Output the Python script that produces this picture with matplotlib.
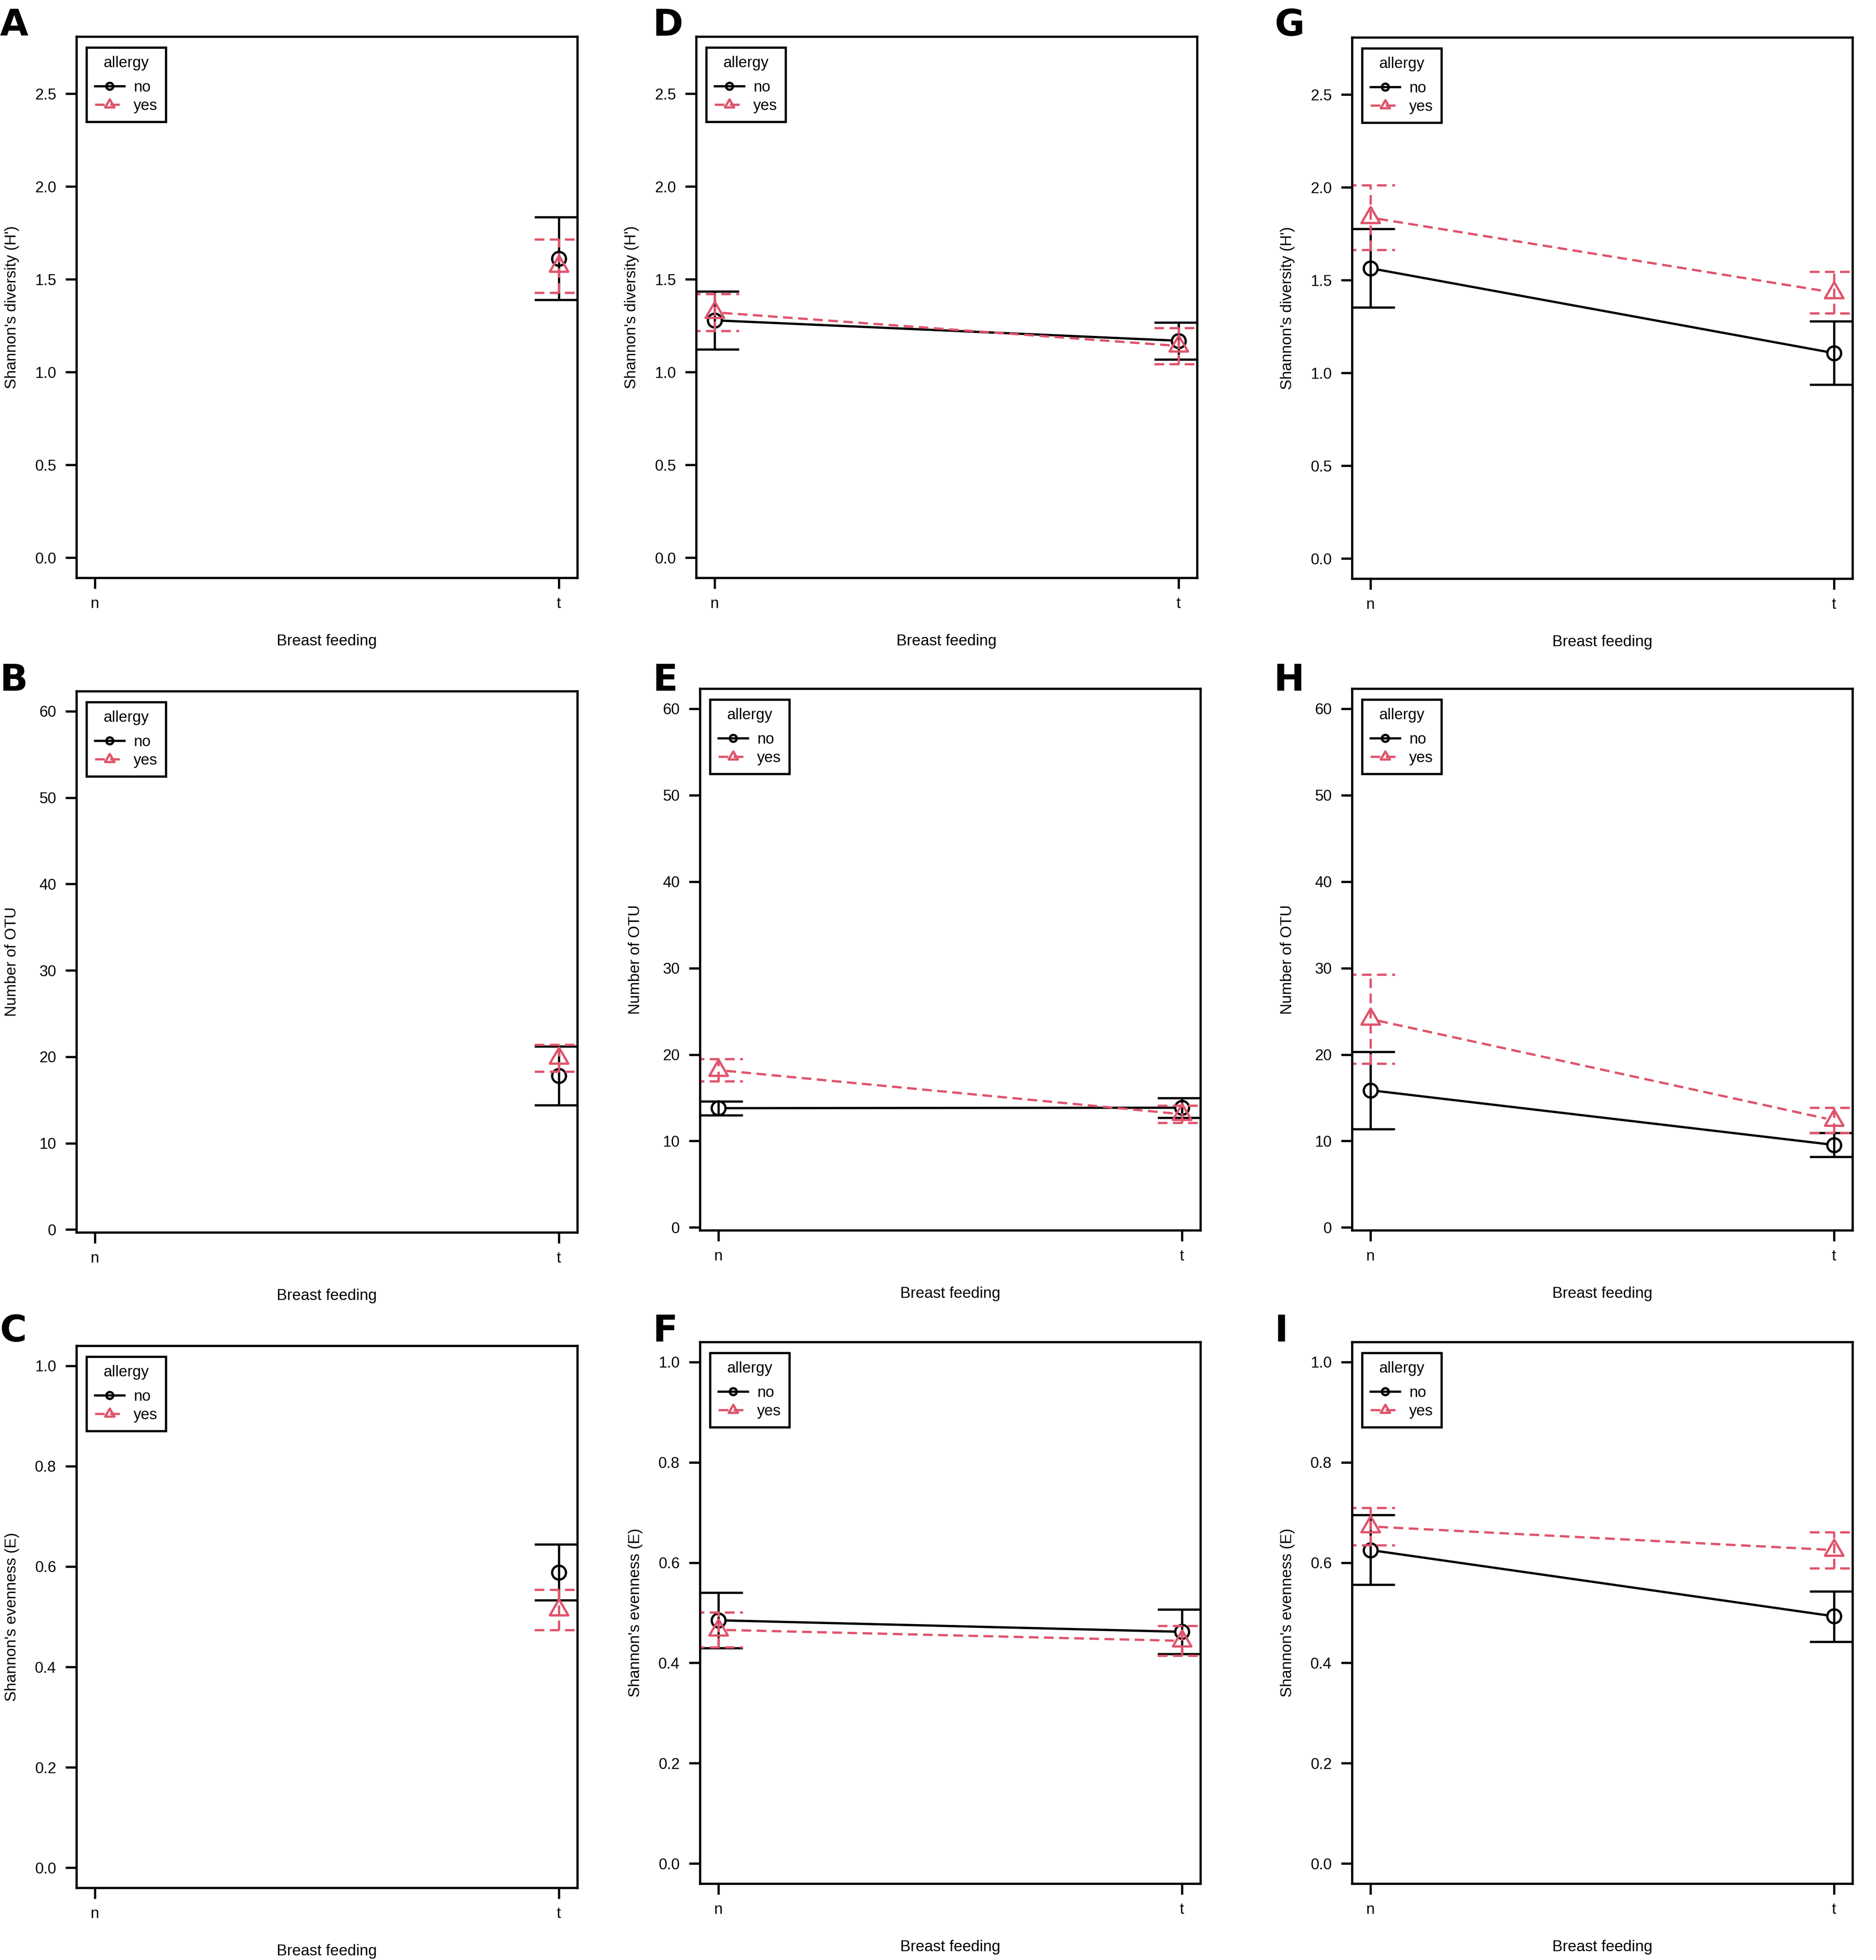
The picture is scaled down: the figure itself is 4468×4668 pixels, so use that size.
import numpy as np
import matplotlib
matplotlib.use("Agg")
import matplotlib.pyplot as plt
from matplotlib.lines import Line2D
from matplotlib.path import Path

plt.rcParams['font.family'] = ['Liberation Sans', 'DejaVu Sans']

nan = np.nan

# factor levels
feeding = ["n", "t"]
allergy = ["no", "yes"]

# per panel and allergy group: one row per feeding level -> [mean, lower, upper]
a_no = [[nan, nan, nan], [1.612, 1.389, 1.835]]
a_yes = [[nan, nan, nan], [1.571, 1.428, 1.715]]
d_no = [[1.279, 1.123, 1.435], [1.169, 1.069, 1.268]]
d_yes = [[1.322, 1.223, 1.422], [1.141, 1.044, 1.239]]
g_no = [[1.564, 1.353, 1.776], [1.107, 0.937, 1.278]]
g_yes = [[1.837, 1.663, 2.011], [1.433, 1.321, 1.545]]

b_no = [[nan, nan, nan], [17.8, 14.4, 21.2]]
b_yes = [[nan, nan, nan], [19.85, 18.3, 21.4]]
e_no = [[13.8, 13.0, 14.6], [13.85, 12.7, 15.0]]
e_yes = [[18.2, 16.9, 19.5], [13.1, 12.1, 14.1]]
h_no = [[15.87, 11.4, 20.3], [9.55, 8.16, 10.93]]
h_yes = [[24.1, 18.95, 29.25], [12.4, 10.93, 13.85]]

c_no = [[nan, nan, nan], [0.588, 0.533, 0.644]]
c_yes = [[nan, nan, nan], [0.514, 0.474, 0.554]]
f_no = [[0.485, 0.430, 0.540], [0.462, 0.418, 0.507]]
f_yes = [[0.466, 0.431, 0.501], [0.444, 0.415, 0.474]]
i_no = [[0.625, 0.556, 0.695], [0.493, 0.442, 0.543]]
i_yes = [[0.672, 0.635, 0.709], [0.625, 0.589, 0.661]]

ylab_h = "Shannon's diversity (H')"
ylab_otu = "Number of OTU"
ylab_e = "Shannon's evenness (E)"
xlab = "Breast feeding"

h_ticks = [0.0, 0.5, 1.0, 1.5, 2.0, 2.5]
otu_ticks = [0, 10, 20, 30, 40, 50, 60]
e_ticks = [0.0, 0.2, 0.4, 0.6, 0.8, 1.0]
h_range = (0, 2.7)
otu_range = (2, 60)
e_range = (0, 1)

W, H, DPI = 4468, 4668, 300
RED = "#DF536B"
LW = 1.3
DASH = (4.25, 2.4)
CAP = 0.052
GAP_PX = 19
CIRCLE_MS = 7.9
TRI_MS = 12.2
FS_TICK = 8.8
FS_LAB = 8.9

# R style open triangle (pch = 2), centred on its centroid
TRI = Path([(0, 1.5551), (1.3468, -0.7776), (-1.3468, -0.7776), (0, 1.5551)],
           [Path.MOVETO, Path.LINETO, Path.LINETO, Path.CLOSEPOLY])

fig = plt.figure(figsize=(W / DPI, H / DPI), dpi=DPI)


def add_axes_px(l, t, r, b):
    return fig.add_axes([l / W, 1 - b / H, (r - l) / W, (b - t) / H])


def gapped_line(ax, xs, ys, **kw):
    # like R type="b": segments stop short of the points
    pts = ax.transData.transform(np.column_stack([xs, ys]))
    inv = ax.transData.inverted()
    for i in range(len(xs) - 1):
        p0, p1 = pts[i], pts[i + 1]
        if np.isnan(p0).any() or np.isnan(p1).any():
            continue
        d = p1 - p0
        u = d / np.hypot(*d)
        seg = inv.transform([p0 + u * GAP_PX, p1 - u * GAP_PX])
        ax.plot(seg[:, 0], seg[:, 1], **kw)


def draw_group(ax, stats, color, ls, marker, ms):
    x = np.arange(1, len(feeding) + 1)
    m = np.array([s[0] for s in stats])
    lo = np.array([s[1] for s in stats])
    hi = np.array([s[2] for s in stats])
    gapped_line(ax, x, m, color=color, lw=LW, ls=ls)
    ok = ~np.isnan(m)
    ax.vlines(x[ok], lo[ok], hi[ok], colors=color, linestyles=[ls], lw=LW)
    ax.hlines(lo[ok], x[ok] - CAP, x[ok] + CAP, colors=color, linestyles=[ls], lw=LW)
    ax.hlines(hi[ok], x[ok] - CAP, x[ok] + CAP, colors=color, linestyles=[ls], lw=LW)
    ax.plot(x[ok], m[ok], ls='none', marker=marker, ms=ms, mfc='none', mec=color, mew=LW)


panels = [
    ("A", a_no, a_yes, ylab_h, h_ticks, "{:.1f}", h_range, (182, 87, 1375, 1376), (0, 85)),
    ("D", d_no, d_yes, ylab_h, h_ticks, "{:.1f}", h_range, (1658, 87, 2851, 1376), (1555, 85)),
    ("G", g_no, g_yes, ylab_h, h_ticks, "{:.1f}", h_range, (3220, 89, 4412, 1378), (3036, 85)),
    ("B", b_no, b_yes, ylab_otu, otu_ticks, "{:d}", otu_range, (182, 1646, 1375, 2935), (0, 1645)),
    ("E", e_no, e_yes, ylab_otu, otu_ticks, "{:d}", otu_range, (1667, 1640, 2859, 2930), (1555, 1645)),
    ("H", h_no, h_yes, ylab_otu, otu_ticks, "{:d}", otu_range, (3220, 1640, 4412, 2930), (3034, 1645)),
    ("C", c_no, c_yes, ylab_e, e_ticks, "{:.1f}", e_range, (182, 3205, 1375, 4496), (0, 3195)),
    ("F", f_no, f_yes, ylab_e, e_ticks, "{:.1f}", e_range, (1667, 3196, 2859, 4486), (1555, 3195)),
    ("I", i_no, i_yes, ylab_e, e_ticks, "{:.1f}", e_range, (3220, 3196, 4412, 4486), (3036, 3195)),
]

for letter, no, yes, ylab, yticks, fmt, yr, box, lxy in panels:
    ax = add_axes_px(*box)
    axw, axh = box[2] - box[0], box[3] - box[1]
    ext = 0.04 * (yr[1] - yr[0])
    ax.set_xlim(1 - 0.04, len(feeding) + 0.04)
    ax.set_ylim(yr[0] - ext, yr[1] + ext)

    draw_group(ax, no, "black", "-", "o", CIRCLE_MS)
    draw_group(ax, yes, RED, (0, DASH), TRI, TRI_MS)

    ax.set_xticks(np.arange(1, len(feeding) + 1))
    ax.set_xticklabels(feeding)
    ax.set_yticks(yticks)
    ax.set_yticklabels([fmt.format(v) for v in yticks])
    for s in ax.spines.values():
        s.set_linewidth(LW)
    ax.tick_params(axis='both', direction='out', length=6.2, width=LW, labelsize=FS_TICK)
    ax.tick_params(axis='y', pad=5.3)
    ax.tick_params(axis='x', pad=4.5)

    ax.set_ylabel(ylab, fontsize=FS_LAB)
    ax.yaxis.set_label_coords(-136 / axw, 0.5)
    ax.set_xlabel(xlab, fontsize=FS_LAB, va='top')
    ax.xaxis.set_label_coords(0.5, -134 / axh)

    handles = [
        Line2D([], [], color="black", lw=LW, marker="o", ms=CIRCLE_MS, mfc="none", mew=LW),
        Line2D([], [], color=RED, lw=LW, ls=(0, DASH), marker=TRI, ms=TRI_MS, mfc="none", mew=LW),
    ]
    leg = ax.legend(handles, allergy, title="allergy", loc="upper left",
                    bbox_to_anchor=(24 / axw, 1 - 26 / axh), borderaxespad=0,
                    frameon=True, fancybox=False, edgecolor="black", framealpha=1,
                    markerscale=0.5, handlelength=1.91, handletextpad=0.6,
                    borderpad=0.55, labelspacing=0.24, fontsize=FS_TICK,
                    title_fontsize=FS_TICK, numpoints=1)
    leg.get_frame().set_linewidth(LW)
    # a bit more room between the title and the entries, as in the R legend
    leg._legend_box.sep = 0.62 * FS_TICK

    fig.text(lxy[0] / W, 1 - lxy[1] / H, letter, fontsize=21, fontweight="bold",
             family="DejaVu Sans", ha="left", va="baseline")

fig.savefig("out.png", dpi=DPI)
